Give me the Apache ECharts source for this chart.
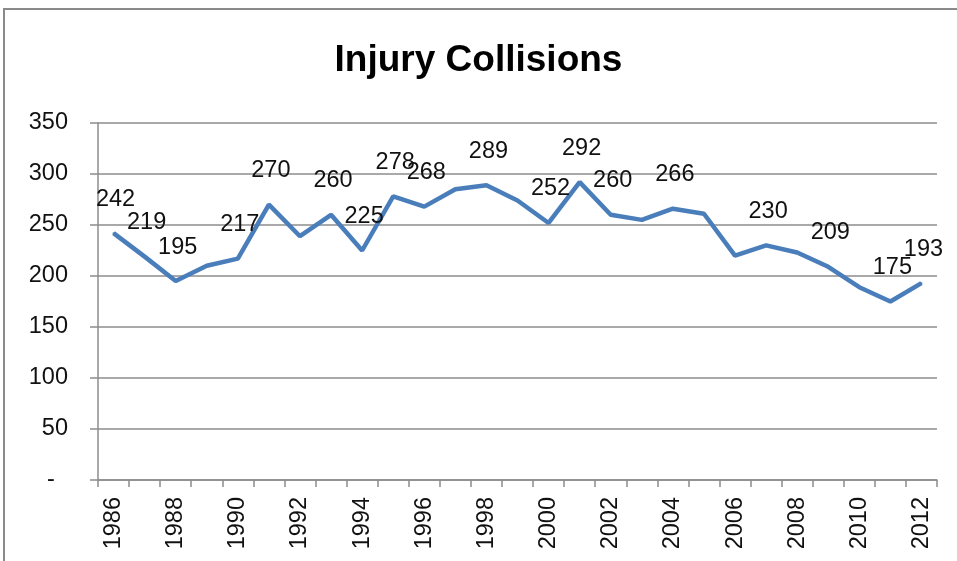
<!DOCTYPE html>
<html>
<head>
<meta charset="utf-8">
<script src="https://cdn.jsdelivr.net/npm/echarts@6/dist/echarts.min.js"></script>
<style>
html,body{margin:0;padding:0;background:#fff;}
#chart{width:957px;height:561px;}
</style>
</head>
<body>
<div id="chart"></div>
<script>
const titleText = 'Injury Collisions';
const years = ['1986','1987','1988','1989','1990','1991','1992','1993','1994','1995','1996','1997','1998','1999','2000','2001','2002','2003','2004','2005','2006','2007','2008','2009','2010','2011','2012'];
const values = [242,219,195,210,217,270,239,260,225,278,268,285,289,274,252,292,260,255,266,261,220,230,223,209,189,175,193];
const labelShown = [1,1,1,0,1,1,0,1,1,1,1,0,1,0,1,1,1,0,1,0,0,1,0,1,0,1,1];
const yTicks = [0,50,100,150,200,250,300,350];

const font = '"Liberation Sans", Arial, sans-serif';
const chart = echarts.init(document.getElementById('chart'), null, {renderer:'canvas'});
const seriesData = values.map((v,i)=>({
  value: v,
  label: {show: !!labelShown[i]}
}));
chart.setOption({
  animation:false,
  backgroundColor:'#ffffff',
  title:{
    text:titleText,
    left:'center',
    top:37,
    textStyle:{fontFamily:font,fontWeight:'bold',fontSize:37,color:'#000'}
  },
  graphic:[{
    type:'rect',
    shape:{x:4,y:9,width:1000,height:600},
    style:{fill:null,stroke:'#8a8a8a',lineWidth:2},
    silent:true
  }],
  grid:{left:98,right:20,top:123,bottom:81,containLabel:false},
  xAxis:{
    type:'category',
    data:years,
    boundaryGap:true,
    axisLine:{show:true,lineStyle:{color:'#8c8c8c',width:1.5}},
    axisTick:{show:true,interval:0,length:7,alignWithLabel:false,lineStyle:{color:'#8c8c8c',width:1.5}},
    axisLabel:{interval:1,rotate:90,margin:17,fontFamily:font,fontSize:23.5,color:'#111'},
    splitLine:{show:false}
  },
  yAxis:{
    type:'value',
    min:yTicks[0],
    max:yTicks[yTicks.length-1],
    interval:50,
    axisLine:{show:true,lineStyle:{color:'#8c8c8c',width:1.5}},
    axisTick:{show:true,length:8,inside:false,lineStyle:{color:'#8c8c8c',width:1.5}},
    axisLabel:{margin:30,fontFamily:font,fontSize:23.5,color:'#111',
      formatter:function(v){return v===0?'-  ':String(v);}},
    splitLine:{show:true,lineStyle:{color:'#8c8c8c',width:1.5}}
  },
  series:[{
    type:'line',
    data:seriesData,
    smooth:false,
    symbol:'circle',
    symbolSize:2,
    showSymbol:true,
    itemStyle:{color:'#4A7EBB'},
    lineStyle:{color:'#4A7EBB',width:4.5},
    label:{
      position:'inside',
      offset:[2,-34],
      fontFamily:font,
      fontSize:23.5,
      color:'#111'
    }
  }]
});
</script>
</body>
</html>
